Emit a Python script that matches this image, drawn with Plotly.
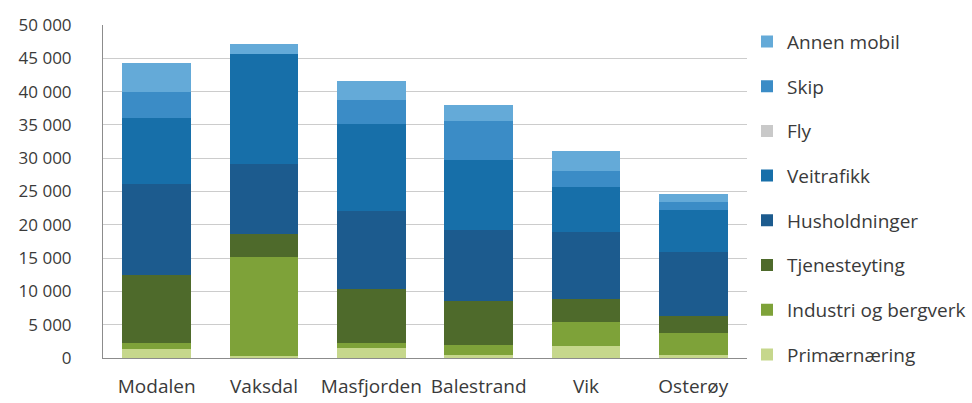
import plotly.graph_objects as go

# Kommunar og utslepp per kjelde (tonn CO2-ekvivalentar)
kommunar = ["Modalen", "Vaksdal", "Masfjorden", "Balestrand", "Vik", "Osterøy"]

primaernaering = [1350, 300, 1550, 400, 1850, 400]
industri = [850, 14800, 650, 1550, 3600, 3300]
tjenesteyting = [10300, 3500, 8100, 6600, 3400, 2650]
husholdninger = [13600, 10600, 11700, 10600, 10100, 9600]
veitrafikk = [9900, 16500, 13100, 10600, 6800, 6250]
fly = [0, 0, 0, 0, 0, 0]
skip = [4000, 0, 3700, 5900, 2300, 1200]
annen_mobil = [4250, 1400, 2800, 2300, 3000, 1300]

series = [
    ("Primærnæring", primaernaering, "#c6d78c"),
    ("Industri og bergverk", industri, "#7ea239"),
    ("Tjenesteyting", tjenesteyting, "#4e6a2b"),
    ("Husholdninger", husholdninger, "#1c5b8e"),
    ("Veitrafikk", veitrafikk, "#176fa9"),
    ("Fly", fly, "#c9c9c9"),
    ("Skip", skip, "#3b8cc6"),
    ("Annen mobil", annen_mobil, "#64aad8"),
]

fig = go.Figure()
n = len(series)
for i, (name, vals, col) in enumerate(series):
    fig.add_trace(go.Bar(
        x=kommunar, y=vals, name=name,
        marker=dict(color=col, line=dict(width=0)),
        legendgroup=f"g{i}",
        legendrank=(n - i) * 10,
    ))

font_family = "'Open Sans', Lato, sans-serif"
text_col = "#3a3a3a"

fig.update_layout(
    barmode="stack",
    bargap=0.36,
    width=972, height=403,
    margin=dict(l=103, r=225, t=25, b=45, autoexpand=False),
    paper_bgcolor="white",
    plot_bgcolor="white",
    separators=", ",
    font=dict(family=font_family, size=17, color=text_col),
    showlegend=True,
    legend=dict(
        x=1.0, xanchor="left",
        y=1.007, yanchor="top",
        traceorder="grouped",
        tracegroupgap=17,
        font=dict(family=font_family, size=19, color=text_col),
        itemwidth=30,
        bgcolor="rgba(0,0,0,0)",
        maxheight=400,
    ),
    xaxis=dict(
        showgrid=False,
        showline=True, linecolor="#8c8c8c", linewidth=1,
        ticks="", ticklabelstandoff=11,
        tickfont=dict(size=19, color=text_col),
    ),
    yaxis=dict(
        range=[0, 50000], dtick=5000, tickformat=",d",
        showgrid=True, gridcolor="#cccccc", gridwidth=1,
        showline=True, linecolor="#8c8c8c", linewidth=1,
        zeroline=False, ticks="", ticklen=0,
        ticklabelstandoff=27,
        tickfont=dict(size=17, color=text_col),
    ),
)

fig.write_html("out.html")
